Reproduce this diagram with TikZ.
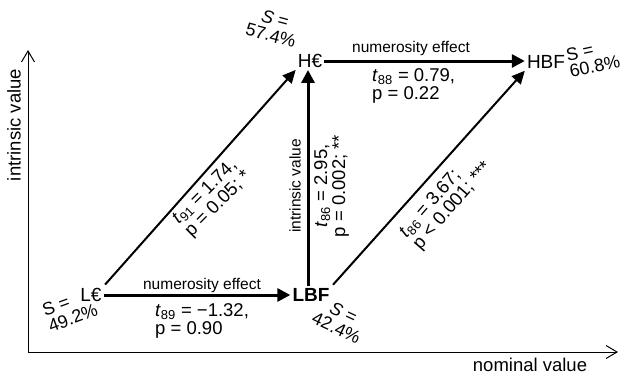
\documentclass[tikz,border=0pt]{standalone}
\usepackage{fontspec}
\setmainfont{Liberation Sans}
\usetikzlibrary{arrows.meta}
\newcommand{\tv}[1]{\textit{t}\textsubscript{#1}}
\tikzset{
 state/.style={font=\fontsize{19}{20}\selectfont, inner sep=2pt},
 stat/.style={font=\fontsize{18.5}{18}\selectfont, inner sep=0pt, align=left},
 lab/.style={font=\fontsize{15.5}{17}\selectfont, inner sep=0pt},
 axlab/.style={font=\fontsize{18.5}{20}\selectfont, inner sep=0pt},
 share/.style={font=\fontsize{18}{17}\selectfont, inner sep=0pt},
 axis/.style={line width=1pt, -{Straight Barb[length=11pt,width=13pt,line width=1pt]}},
 bigarrow/.style={line width=3pt, -{Triangle[length=13pt,width=13pt]}},
 diagarrow/.style={line width=2pt, -{Triangle[length=13pt,width=12pt]}},
}
\begin{document}
\begin{tikzpicture}[x=1pt,y=-1pt]
\useasboundingbox (0,0) rectangle (621,375);
% axes
\coordinate (O) at (28,352);
\coordinate (ytip) at (28,50);
\coordinate (xtip) at (618,352);
\draw[axis] (O) -- (ytip);
\draw[axis] (O) -- (xtip);
\node[axlab, rotate=90] (ylab) at (14,125) {intrinsic value};
\node[axlab] (xlab) at (530,365) {nominal value};
% states
\node[state] (Le) at (91,295) {L€};
\node[state] (LBF) at (311,295) {\textbf{LBF}};
\node[state] (He) at (310,61) {H€};
\node[state] (HBF) at (546,62) {HBF};
% arrows
\draw[bigarrow] (Le.east) -- (Le.east -| LBF.west);
\draw[bigarrow] (He.east) -- (He.east -| HBF.west);
\draw[bigarrow] ([xshift=-3pt]LBF.north) -- ([xshift=-3pt]LBF.north |- He.south);
\draw[diagarrow, shorten <=2pt] (Le.north east) -- (He.south west);
\draw[diagarrow, shorten <=2pt] (LBF.north east) -- (HBF.south west);
% edge labels
\node[lab] (ne1) at (202,285) {numerosity effect};
\node[lab] (ne2) at (411,48) {numerosity effect};
\node[stat, anchor=west] (s89) at (155,321) {\tv{89} = −1.32,\\ p = 0.90};
\node[stat, anchor=west] (s88) at (372,86) {\tv{88} = 0.79,\\ p = 0.22};
\node[lab, rotate=90] (iv) at (295,186) {intrinsic value};
\node[stat, rotate=90, align=center] (s86a) at (331.5,186) {\tv{86} = 2.95,\\ p = 0.002; **};
\node[stat, rotate=45] (s91) at (212,198) {\tv{91} = 1.74,\\ p = 0.05; *};
\node[stat, rotate=49] (s86b) at (446,200) {\tv{86} = 3.67;\\ p < 0.001; ***};
% shares
\node[share, rotate=-15, align=center] (SHe) at (273,27) {\textit{S} =\\57.4\%};
\node[share, rotate=12, align=left] (SHBF) at (593,58) {S =\\60.8\%};
\node[share, rotate=-25, align=center] (SLBF) at (340,320) {\textit{S} =\\42.4\%};
\node[share, rotate=20, align=left] (SLe) at (70,310) {S =\\49.2\%};
\end{tikzpicture}
\end{document}
